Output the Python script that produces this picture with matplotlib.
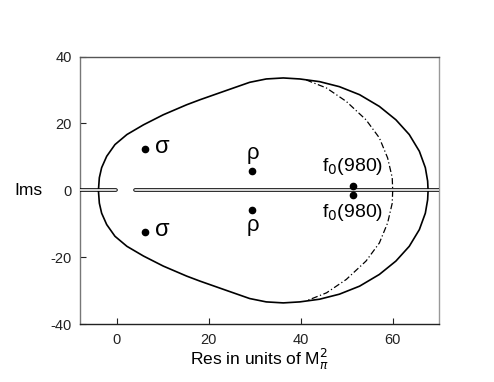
import matplotlib

matplotlib.use("Agg")
import matplotlib.pyplot as plt
import numpy as np

plt.rcParams["font.family"] = ["Liberation Sans", "DejaVu Sans"]
plt.rcParams["axes.unicode_minus"] = False

# upper half of the outer contour (lower half is its mirror image)
outer_x = [-4.0, -3.8, -3.3, -2.2, -0.4, 2.2, 5.8, 10.1, 15.2, 18.1, 23.9, 28.9,
           32.5, 36.2, 39.8, 44.1, 48.4, 52.8, 57.1, 60.7, 63.6, 65.8, 67.1, 67.6, 67.7]
outer_y = [0.0, 3.8, 6.8, 10.2, 13.7, 16.7, 19.6, 22.6, 25.6, 27.1, 29.9, 32.3,
           33.3, 33.6, 33.3, 32.5, 31.0, 28.6, 25.1, 21.1, 16.7, 11.7, 6.8, 2.8, 0.0]

# upper half of the dash-dotted contour
inner_x = [41.2, 45.6, 49.9, 54.2, 57.1, 58.9, 59.9, 60.0]
inner_y = [33.0, 30.6, 26.6, 21.1, 15.7, 9.7, 3.8, 0.0]

# cuts along the real axis
cut_left = [-8.0, -0.1]
cut_right = [4.0, 70.0]

# poles: (Re, Im) upper half plane
pole_names = ["sigma", "rho", "f0"]
pole_re = [6.1, 29.5, 51.3]
pole_im = [12.4, 5.8, 1.4]

xticks = [0, 20, 40, 60]
yticks = [-40, -20, 0, 20, 40]

fig = plt.figure(figsize=(4.94, 3.82), dpi=100)
ax = fig.add_axes([0.162, 0.151, 0.726, 0.701])

ox = np.array(outer_x)
oy = np.array(outer_y)
ax.plot(np.concatenate([ox, ox[::-1]]), np.concatenate([oy, -oy[::-1]]),
        color="black", lw=1.2)
ix = np.array(inner_x)
iy = np.array(inner_y)
ax.plot(np.concatenate([ix, ix[::-1]]), np.concatenate([iy, -iy[::-1]]),
        color="black", lw=0.9, linestyle=(0, (5, 2, 1, 2)))

for cut in (cut_left, cut_right):
    ax.plot(cut, [0, 0], color="black", lw=2.6, solid_capstyle="round", zorder=3)
    ax.plot(cut, [0, 0], color="white", lw=1.2, solid_capstyle="round", zorder=4)

re = np.array(pole_re)
im = np.array(pole_im)
ax.plot(np.concatenate([re, re]), np.concatenate([im, -im]), "o",
        color="black", ms=4.5, zorder=5)

ax.text(pole_re[0] + 2.2, pole_im[0] + 0.5, "σ", fontsize=17, va="center", ha="left")
ax.text(pole_re[0] + 2.2, -pole_im[0] + 0.5, "σ", fontsize=17, va="center", ha="left")
ax.text(pole_re[1], pole_im[1] + 2.0, "ρ", fontsize=16, va="bottom", ha="center")
ax.text(pole_re[1], -pole_im[1] - 1.5, "ρ", fontsize=16, va="top", ha="center")
ax.text(pole_re[2], pole_im[2] + 2.5, r"f$_0$(980)", fontsize=14, va="bottom", ha="center")
ax.text(pole_re[2], -pole_im[2] - 2.0, r"f$_0$(980)", fontsize=14, va="top", ha="center")

ax.set_xlim(-8, 70)
ax.set_ylim(-40, 40)
ax.set_xticks(xticks)
ax.set_yticks(yticks)
ax.tick_params(direction="in", labelsize=10.5, length=4, width=0.8, colors="#222222")
ax.tick_params(axis="x", pad=6)
ax.tick_params(axis="y", pad=6)

ax.spines["top"].set_color("#555555")
ax.spines["right"].set_color("#999999")
ax.spines["left"].set_color("#777777")
ax.spines["bottom"].set_color("#222222")
for s in ax.spines.values():
    s.set_linewidth(1.0)

ax.set_xlabel(r"Res in units of M$_\pi^2$", fontsize=12.5, labelpad=0)
ax.set_ylabel("Ims", fontsize=12.5, rotation=0, labelpad=16, va="center")

fig.savefig("out.png", dpi=100)
